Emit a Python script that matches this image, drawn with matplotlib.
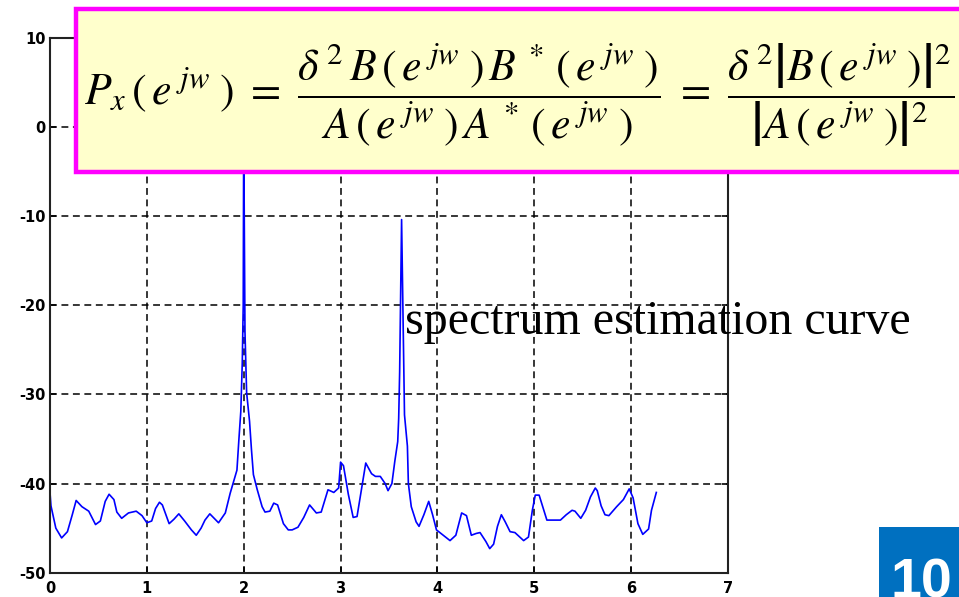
import matplotlib
matplotlib.use("Agg")
import matplotlib.pyplot as plt
from matplotlib.patches import Rectangle

# ---- data ----
freq = [0.00, 0.01, 0.06, 0.12, 0.18, 0.23, 0.27, 0.33, 0.40, 0.47, 0.52, 0.57, 0.61, 0.66,
        0.69, 0.74, 0.81, 0.89, 0.95, 1.00, 1.05, 1.09, 1.13, 1.16, 1.23, 1.28, 1.33, 1.39,
        1.46, 1.51, 1.56, 1.60, 1.65, 1.74, 1.81, 1.86, 1.90, 1.93, 1.95, 1.97, 1.985, 1.995,
        2.00, 2.013, 2.03, 2.06, 2.08, 2.10, 2.14, 2.19, 2.22, 2.27, 2.31, 2.35, 2.41, 2.46,
        2.50, 2.56, 2.62, 2.68, 2.75, 2.80, 2.87, 2.93, 2.98, 3.00, 3.03, 3.08, 3.13, 3.17,
        3.22, 3.26, 3.32, 3.36, 3.41, 3.46, 3.49, 3.53, 3.56, 3.59, 3.60, 3.61, 3.63, 3.65,
        3.66, 3.69, 3.70, 3.73, 3.78, 3.81, 3.86, 3.91, 3.95, 3.99, 4.06, 4.13, 4.19, 4.25,
        4.30, 4.35, 4.40, 4.44, 4.50, 4.54, 4.58, 4.62, 4.66, 4.70, 4.75, 4.80, 4.85, 4.89,
        4.94, 4.98, 5.01, 5.05, 5.09, 5.13, 5.21, 5.27, 5.33, 5.39, 5.42, 5.48, 5.53, 5.58,
        5.63, 5.65, 5.69, 5.73, 5.77, 5.85, 5.92, 5.98, 6.02, 6.07, 6.12, 6.18, 6.21, 6.26]
power_db = [-41.0, -42.5, -45.0, -46.1, -45.4, -43.5, -41.9, -42.6, -43.1, -44.6, -44.2, -42.0,
            -41.2, -41.8, -43.2, -43.9, -43.3, -43.1, -43.6, -44.4, -44.2, -42.8, -42.1, -42.4,
            -44.5, -44.0, -43.4, -44.2, -45.2, -45.8, -45.0, -44.1, -43.4, -44.4, -43.3, -41.1,
            -39.6, -38.5, -35.1, -31.9, -26.5, -20.0, 0.0, -23.0, -29.8, -33.0, -36.2, -39.0,
            -40.7, -42.6, -43.2, -43.1, -42.2, -42.4, -44.5, -45.2, -45.2, -44.9, -43.8, -42.4,
            -43.3, -43.2, -40.7, -41.0, -40.5, -37.6, -38.0, -41.2, -43.8, -43.7, -40.4, -37.7,
            -38.9, -39.2, -39.2, -40.0, -40.8, -40.0, -37.5, -35.3, -32.7, -27.5, -10.4, -25.2,
            -32.3, -35.8, -40.0, -42.6, -44.3, -44.8, -43.5, -42.0, -43.5, -45.2, -45.8, -46.4,
            -45.8, -43.3, -43.6, -45.8, -45.6, -45.5, -46.5, -47.3, -46.8, -44.8, -43.5, -44.3,
            -45.4, -45.5, -46.0, -46.4, -46.0, -43.0, -41.3, -41.3, -42.7, -44.1, -44.1, -44.1,
            -43.5, -43.0, -43.1, -43.9, -43.0, -41.5, -40.5, -40.8, -42.5, -43.5, -43.6, -42.6,
            -41.8, -40.6, -41.6, -44.5, -45.7, -45.1, -43.0, -41.0]
xticks = [0, 1, 2, 3, 4, 5, 6, 7]
yticks = [-50, -40, -30, -20, -10, 0, 10]

W, H = 959, 597
fig = plt.figure(figsize=(W / 100, H / 100), dpi=100)
fig.patch.set_facecolor("white")

ax = fig.add_axes([50 / W, 1 - 572.7 / H, (728 - 50) / W, (572.7 - 37.7) / H])
ax.plot(freq, power_db, color="#0000ff", lw=1.2)
ax.set_xlim(0, 7)
ax.set_ylim(-50, 10)
ax.set_xticks(xticks)
ax.set_yticks(yticks)
ax.set_xticklabels([str(t) for t in xticks], fontweight="bold", fontsize=10.5, family="DejaVu Sans")
ax.set_yticklabels([str(t) for t in yticks], fontweight="bold", fontsize=10.5, family="DejaVu Sans")
ax.tick_params(direction="in", length=4, width=1.2, top=True, right=True)
ax.tick_params(axis="x", pad=6)
ax.tick_params(axis="y", pad=3)
ax.grid(True, color="black", linestyle=(0, (4.5, 3)), linewidth=1.1)
for s in ax.spines.values():
    s.set_linewidth(1.5)
    s.set_color("#222222")

# formula box
box = Rectangle((76 / W, 1 - 172 / H), (W + 20 - 76) / W, (172 - 9) / H,
                transform=fig.transFigure, facecolor="#FFFFCC", edgecolor="#FF00FF",
                lw=3.2, zorder=5, clip_on=False)
fig.patches.append(box)

plt.rcParams["mathtext.fontset"] = "stix"
formula = (r"$P_x\,(\,e^{\;jw}\;)\ =\ \dfrac{\delta^{\,2}\, B\,(\,e^{\;jw}\;)\,B^{\,*}\,(\,e^{\;jw}\;)}"
           r"{A\,(\,e^{\;jw}\;)\,A^{\,*}\,(\,e^{\;jw}\;)}\ =\ "
           r"\dfrac{\delta^{\,2}\left|B\,(\,e^{\;jw}\;)\right|^2}{\left|A\,(\,e^{\;jw}\;)\right|^2}$")
fig.text(84 / W, 1 - 95 / H, formula, fontsize=31.5, ha="left", va="center", zorder=6)

fig.text(405 / W, 1 - 322 / H, "spectrum estimation curve", fontsize=34.5,
         family="Liberation Serif", ha="left", va="center", zorder=6)

# page number badge
badge = Rectangle((879 / W, -0.05), (W + 20 - 879) / W, (597 - 526.7) / H + 0.05,
                  transform=fig.transFigure, facecolor="#0070C0", edgecolor="none",
                  zorder=5, clip_on=False)
fig.patches.append(badge)
fig.text(890 / W, 0 / H, "10", fontsize=40, color="white", fontweight="bold",
         family="Liberation Sans", ha="left", va="baseline", zorder=6)

fig.savefig("out.png", dpi=100)
